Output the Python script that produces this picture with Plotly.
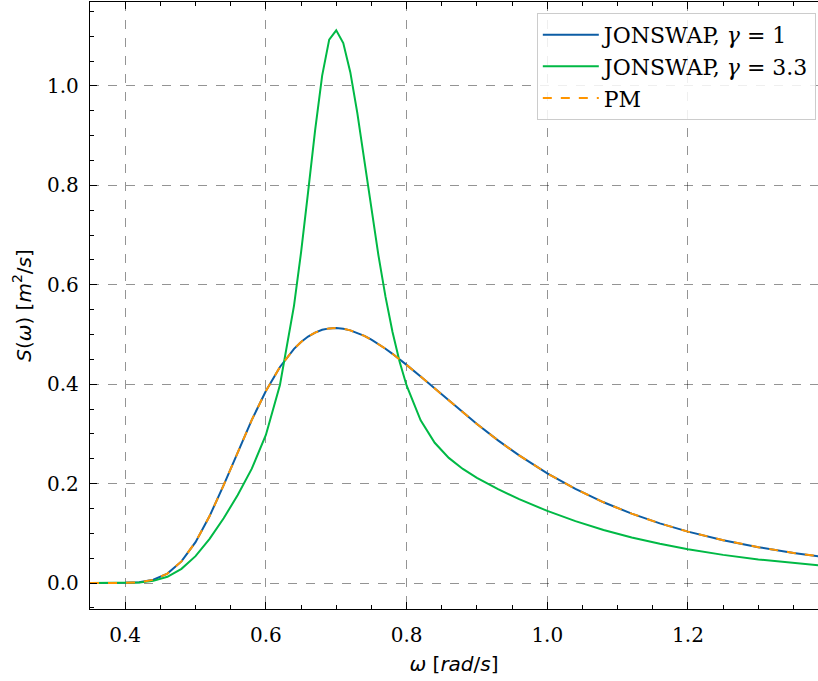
import plotly.graph_objects as go

# Angular frequency samples [rad/s]
omega = [0.35, 0.38, 0.40, 0.42, 0.44, 0.46, 0.48, 0.50, 0.52, 0.54, 0.56, 0.58,
         0.60, 0.62, 0.64, 0.65, 0.66, 0.67, 0.68, 0.69, 0.70, 0.71, 0.72, 0.73,
         0.74, 0.75, 0.76, 0.77, 0.78, 0.79, 0.80, 0.82, 0.84, 0.86, 0.88, 0.90,
         0.93, 0.96, 1.00, 1.04, 1.08, 1.12, 1.16, 1.20, 1.25, 1.30, 1.35, 1.40]

# JONSWAP, gamma = 1
jonswap_g1 = [0.0000, 0.0000, 0.0003, 0.0016, 0.0065, 0.0190, 0.0434, 0.0822, 0.1347, 0.1969,
              0.2634, 0.3282, 0.3863, 0.4346, 0.4712, 0.4850, 0.4959, 0.5039, 0.5094, 0.5123,
              0.5130, 0.5116, 0.5083, 0.5035, 0.4972, 0.4895, 0.4809, 0.4714, 0.4611, 0.4502,
              0.4389, 0.4153, 0.3910, 0.3668, 0.3429, 0.3198, 0.2869, 0.2567, 0.2206, 0.1893,
              0.1624, 0.1395, 0.1200, 0.1034, 0.0861, 0.0721, 0.0606, 0.0511]

# JONSWAP, gamma = 3.3
jonswap_g33 = [0.0000, 0.0000, 0.0002, 0.0011, 0.0043, 0.0125, 0.0285, 0.0540, 0.0887, 0.1303,
               0.1770, 0.2301, 0.2978, 0.3985, 0.5581, 0.6652, 0.7867, 0.9113, 1.0208, 1.0934,
               1.1121, 1.0864, 1.0278, 0.9453, 0.8500, 0.7520, 0.6592, 0.5762, 0.5050, 0.4458,
               0.3975, 0.3274, 0.2821, 0.2517, 0.2295, 0.2116, 0.1889, 0.1688, 0.1450, 0.1245,
               0.1068, 0.0917, 0.0789, 0.0680, 0.0566, 0.0474, 0.0398, 0.0336]

# Pierson-Moskowitz
pm = [0.0000, 0.0000, 0.0003, 0.0016, 0.0065, 0.0190, 0.0434, 0.0822, 0.1347, 0.1969,
      0.2634, 0.3282, 0.3863, 0.4346, 0.4712, 0.4850, 0.4959, 0.5039, 0.5094, 0.5123,
      0.5130, 0.5116, 0.5083, 0.5035, 0.4972, 0.4895, 0.4809, 0.4714, 0.4611, 0.4502,
      0.4389, 0.4153, 0.3910, 0.3668, 0.3429, 0.3198, 0.2869, 0.2567, 0.2206, 0.1893,
      0.1624, 0.1395, 0.1200, 0.1034, 0.0861, 0.0721, 0.0606, 0.0511]

x_ticks = [0.4, 0.6, 0.8, 1.0, 1.2]
y_ticks = [0.0, 0.2, 0.4, 0.6, 0.8, 1.0]

SERIF = "DejaVu Serif"
SANS = "DejaVu Sans"

fig = go.Figure()
fig.add_trace(go.Scatter(x=omega, y=jonswap_g1, mode="lines",
                         name="JONSWAP, <i>γ</i> = 1",
                         line=dict(color="#0C5DA5", width=2)))
fig.add_trace(go.Scatter(x=omega, y=jonswap_g33, mode="lines",
                         name="JONSWAP, <i>γ</i> = 3.3",
                         line=dict(color="#00B945", width=2)))
fig.add_trace(go.Scatter(x=omega, y=pm, mode="lines",
                         name="PM",
                         line=dict(color="#FF9500", width=2, dash="dash")))

axis_common = dict(
    showline=True, linecolor="black", linewidth=1.3,
    ticks="inside", ticklen=7, tickwidth=1.2, tickcolor="black",
    showgrid=True, gridcolor="rgba(0,0,0,0.42)", griddash="dash", gridwidth=1,
    zeroline=False, automargin=False,
    tickfont=dict(family=SERIF, size=20, color="black"),
    tickformat=".1f",
    minor=dict(ticks="inside", ticklen=4, tickwidth=1, tickcolor="black", showgrid=False),
)

fig.update_xaxes(
    **axis_common,
    range=[0.35, 1.3848],
    tickvals=x_ticks,
    mirror="ticks",
    ticklabelstandoff=8,
    title=dict(text="<i>ω</i> [<i>rad</i>/<i>s</i>]",
               font=dict(family=SANS, size=20, color="black"), standoff=10),
)
fig.update_xaxes(minor_dtick=0.05, minor_tick0=0.0)

fig.update_yaxes(
    **axis_common,
    range=[-0.0523, 1.169],
    tickvals=y_ticks,
    mirror=False,
    ticklabelstandoff=6,
    title=dict(text="<i>S</i>(<i>ω</i>) [<i>m</i><sup>2</sup>/<i>s</i>]",
               font=dict(family=SANS, size=20, color="black"), standoff=10),
)
fig.update_yaxes(minor_dtick=0.05, minor_tick0=0.0)

fig.update_layout(
    width=818, height=681,
    margin=dict(l=90, r=0, t=2, b=72, autoexpand=False),
    plot_bgcolor="white", paper_bgcolor="white",
    font=dict(family=SERIF, size=20, color="black"),
    legend=dict(
        x=0.997, y=0.982, xanchor="right", yanchor="top",
        bgcolor="rgba(255,255,255,0.85)", bordercolor="#cccccc", borderwidth=1,
        font=dict(family=SERIF, size=22, color="black"),
        tracegroupgap=0, itemwidth=56,
    ),
    showlegend=True,
)

fig.write_html(
    "out.html",
    config={"displayModeBar": False},
    post_script="document.body.style.margin='0';document.body.style.overflow='hidden';",
)
